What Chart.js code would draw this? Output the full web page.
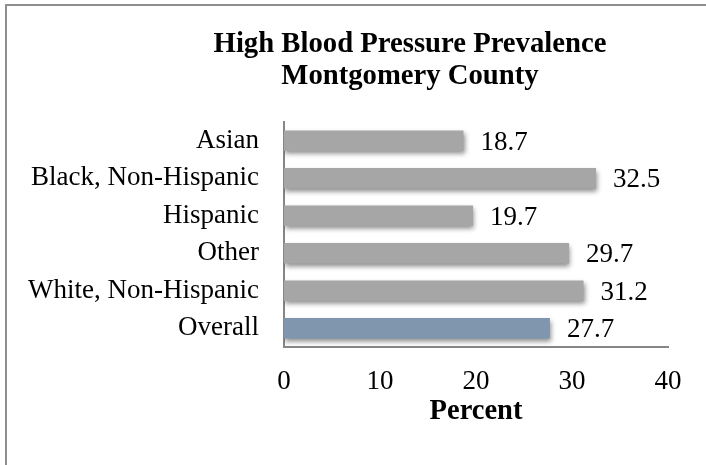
<!DOCTYPE html>
<html>
<head>
<meta charset="utf-8">
<script src="https://cdn.jsdelivr.net/npm/chart.js@4/dist/chart.umd.min.js"></script>
<style>
  html, body { margin: 0; padding: 0; background: #ffffff; overflow: hidden; }
  #frame {
    position: absolute; left: 5px; top: 4px; width: 1200px; height: 1200px;
    border-left: 2px solid #8e8e8e; border-top: 2px solid #8e8e8e;
  }
  #wrap { position: absolute; left: 0; top: 0; width: 706px; height: 465px; }
</style>
</head>
<body>
<div id="frame"></div>
<div id="wrap"><canvas id="chart" width="706" height="465"></canvas></div>
<script>
// Prevalence of high blood pressure by group (percent)
const groups = ['Asian', 'Black, Non-Hispanic', 'Hispanic', 'Other', 'White, Non-Hispanic', 'Overall'];
const prevalence = [18.7, 32.5, 19.7, 29.7, 31.2, 27.7];
const barColors = ['#a6a6a6', '#a6a6a6', '#a6a6a6', '#a6a6a6', '#a6a6a6', '#7f96ae'];
const titleLines = ['High Blood Pressure Prevalence', 'Montgomery County'];
const axisTitle = 'Percent';

const FONT = "'Liberation Serif', 'Times New Roman', serif";

// Soft drop shadow under the bars
const barShadow = {
  id: 'barShadow',
  beforeDatasetsDraw(chart) {
    const ctx = chart.ctx;
    ctx.save();
    ctx.shadowColor = 'rgba(0,0,0,0.45)';
    ctx.shadowBlur = 5;
    ctx.shadowOffsetX = 1;
    ctx.shadowOffsetY = 3;
  },
  afterDatasetsDraw(chart) {
    chart.ctx.restore();
  }
};

// Value labels to the right of each bar
const valueLabels = {
  id: 'valueLabels',
  afterDatasetsDraw(chart) {
    const ctx = chart.ctx;
    const meta = chart.getDatasetMeta(0);
    ctx.save();
    ctx.font = '27px ' + FONT;
    ctx.fillStyle = '#000000';
    ctx.textAlign = 'left';
    ctx.textBaseline = 'middle';
    meta.data.forEach((bar, i) => {
      ctx.fillText(prevalence[i].toFixed(1), bar.x + 17, bar.y + 2);
    });
    ctx.restore();
  }
};

// Two-line chart title, centred over the whole chart frame
const frameTitle = {
  id: 'frameTitle',
  afterDraw(chart) {
    const ctx = chart.ctx;
    ctx.save();
    ctx.font = 'bold 28.7px ' + FONT;
    ctx.fillStyle = '#000000';
    ctx.textAlign = 'center';
    ctx.textBaseline = 'alphabetic';
    titleLines.forEach((line, i) => {
      ctx.fillText(line, 410, 52 + i * 32);
    });
    ctx.restore();
  }
};

new Chart(document.getElementById('chart'), {
  type: 'bar',
  data: {
    labels: groups,
    datasets: [{
      data: prevalence,
      backgroundColor: barColors,
      borderWidth: 0,
      barPercentage: 0.55,
      categoryPercentage: 1.0
    }]
  },
  options: {
    indexAxis: 'y',
    responsive: false,
    animation: false,
    layout: { padding: { left: 0, right: 38, top: 122, bottom: 0 } },
    plugins: {
      legend: { display: false },
      tooltip: { enabled: false },
      title: { display: false }
    },
    scales: {
      x: {
        min: 0,
        max: 40,
        ticks: {
          stepSize: 10,
          color: '#000000',
          font: { family: FONT, size: 27 },
          padding: 19
        },
        grid: { display: false, drawTicks: false },
        border: { display: true, color: '#868686', width: 2 },
        title: {
          display: true,
          text: axisTitle,
          color: '#000000',
          font: { family: FONT, size: 28.5, weight: 'bold' },
          padding: { top: 0, bottom: 36 }
        },
        afterFit(scale) {
          scale.height = 465 - 347;
          scale.paddingLeft = 0;
          scale.paddingRight = 0;
        }
      },
      y: {
        offset: true,
        ticks: {
          color: '#000000',
          font: { family: FONT, size: 27 },
          padding: 25
        },
        grid: { display: false, drawTicks: false },
        border: { display: true, color: '#868686', width: 2 },
        afterFit(scale) {
          scale.width = 284;
          scale.paddingTop = 0;
          scale.paddingBottom = 0;
        }
      }
    }
  },
  plugins: [barShadow, valueLabels, frameTitle]
});
</script>
</body>
</html>
